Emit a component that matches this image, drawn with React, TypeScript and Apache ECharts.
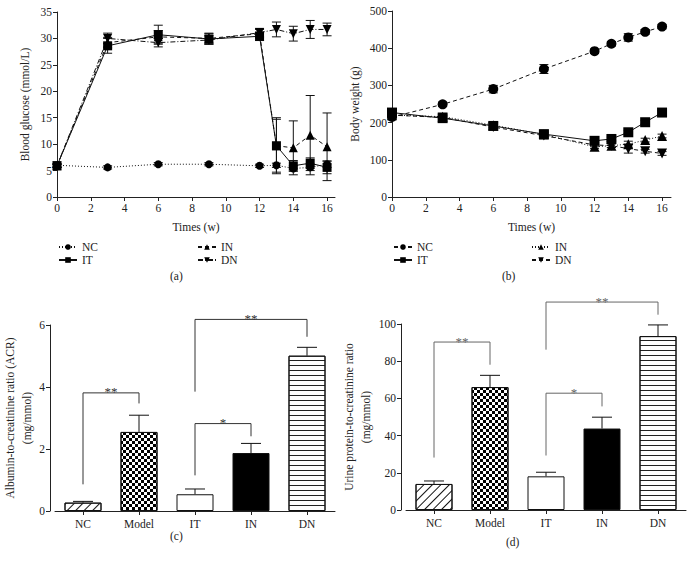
import React, { useEffect, useRef } from 'react';
import * as echarts from 'echarts';

const FONT = '"Liberation Serif", "DejaVu Serif", serif';
const INK = '#222';

// ---- Panel (a): blood glucose ----
const weeks = [0, 3, 6, 9, 12, 13, 14, 15, 16];
const weekTicks = [0, 2, 4, 6, 8, 10, 12, 14, 16];
const glucoseNC = [6.0, 5.6, 6.2, 6.2, 5.9, 6.0, 5.4, 5.6, 6.2];
const glucoseIT = [5.9, 28.6, 30.7, 29.9, 30.4, 9.7, 5.9, 6.4, 5.6];
const glucoseIN = [5.9, 29.2, 30.3, 30.0, 30.9, 9.7, 9.3, 11.7, 9.5];
const glucoseDN = [5.9, 30.0, 29.2, 29.7, 31.1, 31.7, 30.9, 31.7, 31.7];
const glucoseSdNC = [0.3, 0.3, 0.3, 0.3, 0.3, 0.4, 0.5, 0.6, 0.6];
const glucoseSdIT = [0.3, 1.4, 1.8, 1.0, 0.8, 5.3, 1.0, 1.0, 1.2];
const glucoseSdIN = [0.3, 1.0, 1.2, 1.0, 0.8, 5.0, 5.1, 7.5, 6.4];
const glucoseSdDN = [0.3, 1.0, 0.8, 0.8, 0.8, 1.4, 1.4, 1.7, 1.2];

// ---- Panel (b): body weight ----
const weightNC = [215, 249, 290, 344, 392, 412, 429, 444, 458];
const weightIT = [227, 212, 191, 169, 151, 156, 174, 201, 227];
const weightIN = [220, 216, 193, 168, 135, 138, 142, 153, 164];
const weightDN = [220, 214, 188, 165, 140, 138, 130, 123, 117];
const weightSdNC = [5, 6, 10, 12, 6, 6, 10, 6, 6];
const weightSdIT = [5, 5, 5, 5, 5, 5, 5, 5, 5];
const weightSdIN = [5, 5, 5, 5, 5, 5, 8, 5, 5];
const weightSdDN = [5, 5, 5, 5, 5, 5, 12, 5, 5];

// ---- Panels (c) and (d): bar charts ----
const barGroups = ['NC', 'Model', 'IT', 'IN', 'DN'];
const acrMeans = [0.27, 2.55, 0.54, 1.87, 5.01];
const acrErrTop = [0.31, 3.09, 0.71, 2.18, 5.28];
// [groupFrom, groupTo, legFrom, top, legTo]
const acrBrackets = [
  [0, 1, 0.86, 3.81, 3.47],
  [2, 3, 1.15, 2.82, 2.41],
  [2, 4, 3.85, 6.18, 5.62],
];
const acrStars = ['**', '*', '**'];

const upcrMeans = [14.0, 66.1, 18.1, 43.8, 93.5];
const upcrErrTop = [15.6, 72.4, 20.3, 49.9, 99.5];
const upcrBrackets = [
  [0, 1, 28.2, 90.3, 78.1],
  [2, 3, 29.3, 62.8, 55.7],
  [2, 4, 86.2, 111.8, 105],
];
const upcrStars = ['**', '*', '**'];

const pairs = (xs: number[], ys: number[]) => xs.map((x, i) => [x, ys[i]]);
const triples = (xs: number[], ys: number[], sd: number[]) => xs.map((x, i) => [x, ys[i], sd[i]]);

const FS = 11.5;
const axisLineStyle = { show: true, lineStyle: { color: INK, width: 1 } };
const tickStyle = { show: true, length: 4, lineStyle: { color: INK, width: 1 } };
const labelStyle = { color: INK, fontSize: FS, fontFamily: FONT, margin: 5 };
const nameStyle = { color: INK, fontSize: FS, fontFamily: FONT };

function errorSeries(name: string, xi: number, data: number[][], capHalf: number) {
  return {
    type: 'custom',
    name,
    xAxisIndex: xi,
    yAxisIndex: xi,
    silent: true,
    clip: false,
    z: 1,
    data,
    encode: { x: 0, y: 1 },
    renderItem: (params: any, api: any) => {
      const x = api.value(0);
      const m = api.value(1);
      const s = api.value(2);
      const hi = api.coord([x, m + s]);
      const lo = api.coord([x, m - s]);
      const st = { stroke: '#111', lineWidth: 1 };
      return {
        type: 'group',
        children: [
          { type: 'line', shape: { x1: hi[0], y1: hi[1], x2: lo[0], y2: lo[1] }, style: st },
          { type: 'line', shape: { x1: hi[0] - capHalf, y1: hi[1], x2: hi[0] + capHalf, y2: hi[1] }, style: st },
          { type: 'line', shape: { x1: lo[0] - capHalf, y1: lo[1], x2: lo[0] + capHalf, y2: lo[1] }, style: st },
        ],
      };
    },
  };
}

function lineSeries(name: string, xi: number, data: number[][], symbol: string, size: number, type: any, rotate = 0) {
  return {
    type: 'line',
    name,
    xAxisIndex: xi,
    yAxisIndex: xi,
    data,
    symbol,
    symbolSize: size,
    symbolRotate: rotate,
    showAllSymbol: true,
    z: 3,
    itemStyle: { color: '#000', borderWidth: 0 },
    lineStyle: { color: '#111', width: 1, type },
    emphasis: { disabled: true },
  };
}

function barErrSeries(xi: number, means: number[], tops: number[]) {
  return {
    type: 'custom',
    xAxisIndex: xi,
    yAxisIndex: xi,
    silent: true,
    clip: false,
    z: 1,
    data: means.map((m, i) => [i, m, tops[i]]),
    encode: { x: 0, y: 1 },
    renderItem: (params: any, api: any) => {
      const i = api.value(0);
      const a = api.coord([i, api.value(1)]);
      const b = api.coord([i, api.value(2)]);
      const st = { stroke: '#111', lineWidth: 1 };
      return {
        type: 'group',
        children: [
          { type: 'line', shape: { x1: a[0], y1: a[1], x2: b[0], y2: b[1] }, style: st },
          { type: 'line', shape: { x1: b[0] - 10, y1: b[1], x2: b[0] + 10, y2: b[1] }, style: st },
        ],
      };
    },
  };
}

function bracketSeries(xi: number, brackets: number[][], stars: string[], color: string) {
  return {
    type: 'custom',
    xAxisIndex: xi,
    yAxisIndex: xi,
    silent: true,
    clip: false,
    z: 5,
    data: brackets,
    encode: { x: [0, 1], y: [2, 3, 4] },
    renderItem: (params: any, api: any) => {
      const a = api.coord([api.value(0), api.value(2)]);
      const b = api.coord([api.value(0), api.value(3)]);
      const c = api.coord([api.value(1), api.value(3)]);
      const d = api.coord([api.value(1), api.value(4)]);
      return {
        type: 'group',
        children: [
          { type: 'polyline', shape: { points: [a, b, c, d] }, style: { stroke: color, lineWidth: 1, fill: null } },
          {
            type: 'text',
            style: {
              text: stars[params.dataIndex],
              x: (b[0] + c[0]) / 2,
              y: b[1] - 1,
              align: 'center',
              verticalAlign: 'middle',
              fontSize: 13,
              fontFamily: FONT,
              fill: color,
            },
          },
        ],
      };
    },
  };
}

const hatchDecal = {
  symbol: 'rect', symbolSize: 1, color: '#111',
  dashArrayX: [1, 0], dashArrayY: [1, 5], rotation: -Math.PI / 4,
};
const checkDecal = {
  symbol: 'rect', symbolSize: 1, color: '#000',
  dashArrayX: [[3, 3], [0, 3, 3, 0]], dashArrayY: [3, 0], rotation: 0,
};
const stripeDecal = {
  symbol: 'rect', symbolSize: 1, color: '#222',
  dashArrayX: [1, 0], dashArrayY: [1, 4], rotation: 0,
};

function barItems(means: number[]) {
  const styles = [
    { color: '#fff', decal: hatchDecal },
    { color: '#fff', decal: checkDecal },
    { color: '#fff' },
    { color: '#000' },
    { color: '#fff', decal: stripeDecal },
  ];
  return means.map((v, i) => ({
    value: v,
    itemStyle: { ...styles[i], borderColor: '#111', borderWidth: 1 },
  }));
}

const legendCommon = {
  orient: 'vertical',
  itemWidth: 18,
  itemHeight: 7,
  itemGap: 1,
  padding: 0,
  selectedMode: false,
  textStyle: { color: INK, fontSize: FS, fontFamily: FONT },
  formatter: (n: string) => n.replace(/^b:/, ''),
};

export default function App() {
  const ref = useRef<HTMLDivElement>(null);
  useEffect(() => {
    if (!ref.current) return;
    const chart = echarts.init(ref.current, undefined, { renderer: 'svg' });
    const option: any = {
      animation: false,
      backgroundColor: '#fff',
      textStyle: { fontFamily: FONT },
      grid: [
        { left: 57, top: 12, width: 278, height: 185 },
        { left: 392, top: 11, width: 279, height: 186 },
        { left: 55, top: 325, width: 280, height: 186 },
        { left: 406, top: 324, width: 280, height: 186 },
      ],
      xAxis: [
        {
          gridIndex: 0, type: 'value', min: 0, max: 16.47,
          name: 'Times (w)', nameLocation: 'middle', nameGap: 24, nameTextStyle: nameStyle,
          axisLine: axisLineStyle, axisTick: { ...tickStyle, customValues: weekTicks },
          axisLabel: { ...labelStyle, customValues: weekTicks }, splitLine: { show: false },
        },
        {
          gridIndex: 1, type: 'value', min: 0, max: 16.53,
          name: 'Times (w)', nameLocation: 'middle', nameGap: 24, nameTextStyle: nameStyle,
          axisLine: axisLineStyle, axisTick: { ...tickStyle, customValues: weekTicks },
          axisLabel: { ...labelStyle, customValues: weekTicks }, splitLine: { show: false },
        },
        {
          gridIndex: 2, type: 'category', data: barGroups, boundaryGap: true,
          axisLine: axisLineStyle, axisTick: { ...tickStyle, alignWithLabel: true },
          axisLabel: { ...labelStyle, margin: 7 }, splitLine: { show: false },
        },
        {
          gridIndex: 3, type: 'category', data: barGroups, boundaryGap: true,
          axisLine: axisLineStyle, axisTick: { ...tickStyle, alignWithLabel: true },
          axisLabel: { ...labelStyle, margin: 7 }, splitLine: { show: false },
        },
      ],
      yAxis: [
        {
          gridIndex: 0, type: 'value', min: 0, max: 35, interval: 5,
          name: 'Blood glucose (mmol/L)', nameLocation: 'middle', nameGap: 26, nameTextStyle: nameStyle,
          axisLine: axisLineStyle, axisTick: tickStyle, axisLabel: labelStyle, splitLine: { show: false },
        },
        {
          gridIndex: 1, type: 'value', min: 0, max: 500, interval: 100,
          name: 'Body weight (g)', nameLocation: 'middle', nameGap: 31, nameTextStyle: nameStyle,
          axisLine: axisLineStyle, axisTick: tickStyle, axisLabel: labelStyle, splitLine: { show: false },
        },
        {
          gridIndex: 2, type: 'value', min: 0, max: 6, interval: 2, offset: 5,
          name: 'Albumin-to-creatinine ratio (ACR)\n(mg/mmol)', nameLocation: 'middle', nameGap: 12,
          nameTextStyle: { ...nameStyle, lineHeight: 17 },
          axisLine: axisLineStyle, axisTick: tickStyle, axisLabel: labelStyle, splitLine: { show: false },
        },
        {
          gridIndex: 3, type: 'value', min: 0, max: 100, interval: 20, offset: 5,
          name: 'Urine protein-to-creatinine ratio\n(mg/mmol)', nameLocation: 'middle', nameGap: 25,
          nameTextStyle: { ...nameStyle, lineHeight: 17 },
          axisLine: axisLineStyle, axisTick: tickStyle, axisLabel: labelStyle, splitLine: { show: false },
        },
      ],
      legend: [
        { ...legendCommon, data: ['NC', 'IT'], left: 58, top: 241 },
        { ...legendCommon, data: ['IN', 'DN'], left: 197, top: 241 },
        { ...legendCommon, data: ['b:NC', 'b:IT'], left: 393, top: 241 },
        { ...legendCommon, data: ['b:IN', 'b:DN'], left: 531, top: 241 },
      ],
      graphic: [
        { type: 'text', left: 170, top: 270, style: { text: '(a)', fontSize: FS, fontFamily: FONT, fill: INK } },
        { type: 'text', left: 502, top: 270, style: { text: '(b)', fontSize: FS, fontFamily: FONT, fill: INK } },
        { type: 'text', left: 170, top: 530, style: { text: '(c)', fontSize: FS, fontFamily: FONT, fill: INK } },
        { type: 'text', left: 506, top: 536, style: { text: '(d)', fontSize: FS, fontFamily: FONT, fill: INK } },
      ],
      series: [
        errorSeries('errNC', 0, triples(weeks, glucoseNC, glucoseSdNC), 4.5),
        errorSeries('errIT', 0, triples(weeks, glucoseIT, glucoseSdIT), 4.5),
        errorSeries('errIN', 0, triples(weeks, glucoseIN, glucoseSdIN), 4.5),
        errorSeries('errDN', 0, triples(weeks, glucoseDN, glucoseSdDN), 4.5),
        lineSeries('NC', 0, pairs(weeks, glucoseNC), 'circle', 8, [1, 2]),
        lineSeries('IN', 0, pairs(weeks, glucoseIN), 'triangle', 9, [4, 3]),
        lineSeries('DN', 0, pairs(weeks, glucoseDN), 'triangle', 9, [5, 2, 1, 2], 180),
        lineSeries('IT', 0, pairs(weeks, glucoseIT), 'rect', 9, 'solid'),

        errorSeries('berrNC', 1, triples(weeks, weightNC, weightSdNC), 4.5),
        errorSeries('berrIT', 1, triples(weeks, weightIT, weightSdIT), 4.5),
        errorSeries('berrIN', 1, triples(weeks, weightIN, weightSdIN), 4.5),
        errorSeries('berrDN', 1, triples(weeks, weightDN, weightSdDN), 4.5),
        lineSeries('b:NC', 1, pairs(weeks, weightNC), 'circle', 10, [4, 3]),
        lineSeries('b:IN', 1, pairs(weeks, weightIN), 'triangle', 10, [1, 2]),
        lineSeries('b:DN', 1, pairs(weeks, weightDN), 'triangle', 10, [4, 3], 180),
        lineSeries('b:IT', 1, pairs(weeks, weightIT), 'rect', 10, 'solid'),

        barErrSeries(2, acrMeans, acrErrTop),
        {
          type: 'bar', xAxisIndex: 2, yAxisIndex: 2, barWidth: 37, z: 2,
          data: barItems(acrMeans), emphasis: { disabled: true },
        },
        bracketSeries(2, acrBrackets, acrStars, '#333'),

        barErrSeries(3, upcrMeans, upcrErrTop),
        {
          type: 'bar', xAxisIndex: 3, yAxisIndex: 3, barWidth: 37, z: 2,
          data: barItems(upcrMeans), emphasis: { disabled: true },
        },
        bracketSeries(3, upcrBrackets, upcrStars, '#666'),
      ],
    };
    chart.setOption(option);
    return () => chart.dispose();
  }, []);
  return (
    <div
      ref={ref}
      style={{ position: 'absolute', left: 0, top: 0, width: 692, height: 565, background: '#fff' }}
    />
  );
}
